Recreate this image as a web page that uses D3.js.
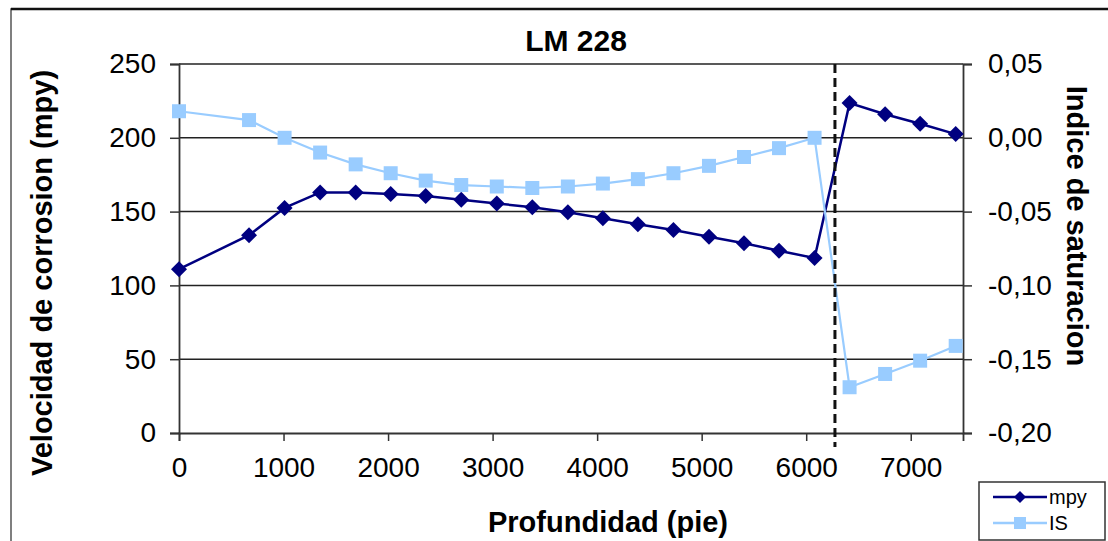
<!DOCTYPE html>
<html>
<head>
<meta charset="utf-8">
<script src="https://cdn.jsdelivr.net/npm/d3@7"></script>
<style>
  html, body { margin: 0; padding: 0; background: #fff; }
  svg { display: block; font-family: "Liberation Sans", Arial, sans-serif; }
</style>
</head>
<body>
<svg id="chart" width="1108" height="541"></svg>
<script>
// Depth of each sample (ft)
const depth = [0, 670, 1010, 1350, 1690, 2025, 2360, 2700, 3040, 3380, 3720,
               4055, 4390, 4730, 5070, 5405, 5740, 6080, 6415, 6755, 7090, 7430];
// Corrosion rate (mpy), left axis
const mpy = [111, 134, 152.5, 163, 163, 162, 160.5, 158, 155.5, 153, 149.5,
             145.5, 141.5, 137.5, 133, 128.5, 123.5, 118.5, 223.5, 216, 209.5, 202.5];
// Saturation index, right axis
const IS = [0.018, 0.012, 0.000, -0.010, -0.018, -0.024, -0.029, -0.032, -0.033, -0.034, -0.033,
            -0.031, -0.028, -0.024, -0.019, -0.013, -0.007, 0.000, -0.169, -0.160, -0.151, -0.141];
// Depth marked with the dashed reference line
const markerDepth = 6275;

const xTicks = [0, 1000, 2000, 3000, 4000, 5000, 6000, 7000];
const yLeftTicks = [0, 50, 100, 150, 200, 250];
const yRightTicks = [-0.20, -0.15, -0.10, -0.05, 0.00, 0.05];

const chartTitle = "LM 228";
const xTitle = "Profundidad (pie)";
const yLeftTitle = "Velocidad de corrosion (mpy)";
const yRightTitle = "Indice de saturacion";
const seriesNames = ["mpy", "IS"];

const svg = d3.select("#chart");
const plot = { left: 179, right: 963, top: 64, bottom: 433 };

const x = d3.scaleLinear().domain([0, 7500]).range([plot.left, plot.right]);
const yL = d3.scaleLinear().domain([0, 250]).range([plot.bottom, plot.top]);
const yR = d3.scaleLinear().domain([-0.20, 0.05]).range([plot.bottom, plot.top]);

const axisColor = "#333";
const navy = "#000080";
const light = "#99ccff";
const fmtComma = v => d3.format(".2f")(v).replace(".", ",").replace("−", "-");

// Outer frame
svg.append("rect")
  .attr("x", 11).attr("y", 9).attr("width", 1120).attr("height", 560)
  .attr("fill", "#fff").attr("stroke", "#555").attr("stroke-width", 1.5);
svg.append("line")
  .attr("x1", 11).attr("x2", 1108).attr("y1", 9).attr("y2", 9)
  .attr("stroke", "#111").attr("stroke-width", 2.5);

// Horizontal gridlines
svg.append("g").selectAll("line").data(yLeftTicks.filter(d => d > 0)).join("line")
  .attr("x1", plot.left).attr("x2", plot.right)
  .attr("y1", d => yL(d)).attr("y2", d => yL(d))
  .attr("stroke", "#222").attr("stroke-width", 1.5);

// Left axis
const gL = svg.append("g").attr("transform", `translate(${plot.left},0)`)
  .call(d3.axisLeft(yL).tickValues(yLeftTicks).tickSize(9).tickPadding(14));
// Right axis
const gR = svg.append("g").attr("transform", `translate(${plot.right},0)`)
  .call(d3.axisRight(yR).tickValues(yRightTicks).tickSize(9).tickPadding(16).tickFormat(fmtComma));
// Bottom axis
const gB = svg.append("g").attr("transform", `translate(0,${plot.bottom})`)
  .call(d3.axisBottom(x).tickValues(xTicks).tickSize(8).tickPadding(16).tickFormat(d3.format("d")));

[gL, gR, gB].forEach(g => {
  g.select(".domain").attr("stroke", axisColor).attr("stroke-width", 1.8);
  g.selectAll(".tick line").attr("stroke", axisColor).attr("stroke-width", 1.5);
  g.selectAll(".tick text").attr("fill", "#000").style("font-size", "28px")
    .style("font-family", "'Liberation Sans', Arial, sans-serif");
});
gB.selectAll(".tick text").attr("dy", "0.71em");

// Series lines
const lineMpy = d3.line().x((d, i) => x(depth[i])).y(d => yL(d));
const lineIS = d3.line().x((d, i) => x(depth[i])).y(d => yR(d));

svg.append("path").datum(mpy).attr("d", lineMpy)
  .attr("fill", "none").attr("stroke", navy).attr("stroke-width", 2.5);
svg.append("path").datum(IS).attr("d", lineIS)
  .attr("fill", "none").attr("stroke", light).attr("stroke-width", 2.2);

// Markers
const dia = 8;
svg.append("g").selectAll("path").data(mpy).join("path")
  .attr("transform", (d, i) => `translate(${x(depth[i])},${yL(d)})`)
  .attr("d", `M0,${-dia}L${dia},0L0,${dia}L${-dia},0Z`)
  .attr("fill", navy);
const sq = 14;
svg.append("g").selectAll("rect").data(IS).join("rect")
  .attr("x", (d, i) => x(depth[i]) - sq / 2)
  .attr("y", d => yR(d) - sq / 2)
  .attr("width", sq).attr("height", sq)
  .attr("fill", light);

// Dashed reference line
svg.append("line")
  .attr("x1", x(markerDepth)).attr("x2", x(markerDepth))
  .attr("y1", plot.top).attr("y2", plot.bottom + 14)
  .attr("stroke", "#111").attr("stroke-width", 3)
  .attr("stroke-dasharray", "9,5");

// Titles
svg.append("text").attr("x", 576).attr("y", 51).attr("text-anchor", "middle")
  .style("font-size", "30px").style("font-weight", "bold").text(chartTitle);
svg.append("text").attr("x", 608).attr("y", 532).attr("text-anchor", "middle")
  .style("font-size", "29px").style("font-weight", "bold").text(xTitle);
svg.append("text").attr("transform", "translate(52,273) rotate(-90)")
  .attr("text-anchor", "middle")
  .style("font-size", "29px").style("font-weight", "bold").text(yLeftTitle);
svg.append("text").attr("transform", "translate(1067,226) rotate(90)")
  .attr("text-anchor", "middle")
  .style("font-size", "29px").style("font-weight", "bold").text(yRightTitle);

// Legend
const leg = svg.append("g");
leg.append("rect").attr("x", 979).attr("y", 482).attr("width", 126).attr("height", 58)
  .attr("fill", "#fff").attr("stroke", "#333").attr("stroke-width", 1.5);
const legRows = [
  { name: seriesNames[0], color: navy, y: 497, shape: "diamond" },
  { name: seriesNames[1], color: light, y: 523, shape: "square" }
];
legRows.forEach(r => {
  leg.append("line").attr("x1", 993).attr("x2", 1047).attr("y1", r.y).attr("y2", r.y)
    .attr("stroke", r.color).attr("stroke-width", 2.5);
  if (r.shape === "diamond") {
    leg.append("path").attr("transform", `translate(1020,${r.y})`)
      .attr("d", "M0,-6L6,0L0,6L-6,0Z").attr("fill", r.color);
  } else {
    leg.append("rect").attr("x", 1014).attr("y", r.y - 6).attr("width", 12).attr("height", 12)
      .attr("fill", r.color);
  }
  leg.append("text").attr("x", 1049).attr("y", r.y + 7)
    .style("font-size", "20px").attr("fill", "#000").text(r.name);
});
</script>
</body>
</html>
